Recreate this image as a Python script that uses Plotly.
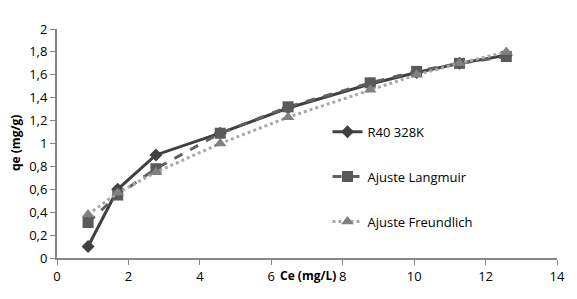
import plotly.graph_objects as go

ce = [0.87, 1.7, 2.77, 4.57, 6.47, 8.77, 10.07, 11.27, 12.58]
qe_exp = [0.10, 0.60, 0.90, 1.09, 1.31, 1.52, 1.62, 1.70, 1.77]
qe_lang = [0.31, 0.55, 0.78, 1.09, 1.32, 1.53, 1.63, 1.70, 1.76]
qe_freu = [0.38, 0.57, 0.75, 1.00, 1.23, 1.47, 1.60, 1.70, 1.80]

x_ticks = [0, 2, 4, 6, 8, 10, 12, 14]
x_ticktext = ["0", "2", "4", "6", "8", "10", "12", "14"]
y_ticks = [0, 0.2, 0.4, 0.6, 0.8, 1, 1.2, 1.4, 1.6, 1.8, 2]
y_ticktext = ["0", "0,2", "0,4", "0,6", "0,8", "1", "1,2", "1,4", "1,6", "1,8", "2"]

FONT = "Open Sans"

fig = go.Figure()
fig.add_trace(go.Scatter(
    x=ce, y=qe_exp, name="R40 328K", mode="lines+markers",
    line=dict(color="#404040", width=3),
    marker=dict(symbol="diamond", size=10, color="#404040"),
    legendgroup="a"))
fig.add_trace(go.Scatter(
    x=ce, y=qe_lang, name="Ajuste Langmuir", mode="lines+markers",
    line=dict(color="#606060", width=3, dash="dash"),
    marker=dict(symbol="square", size=11, color="#5a5a5a"),
    legendgroup="b"))
fig.add_trace(go.Scatter(
    x=ce, y=qe_freu, name="Ajuste Freundlich", mode="lines+markers",
    line=dict(color="#a8a8a8", width=3, dash="dot"),
    marker=dict(symbol="triangle-up", size=11, color="#808080"),
    legendgroup="c"))

# page body has an 8px margin, so the figure is drawn at (8, 8)
fig.update_layout(
    width=569, height=291,
    margin=dict(l=49, r=19, t=13, b=41),
    paper_bgcolor="white", plot_bgcolor="white",
    font=dict(family=FONT, size=13, color="#000000"),
    legend=dict(x=0.541, y=0.355, xanchor="left", yanchor="middle",
                bgcolor="rgba(0,0,0,0)", tracegroupgap=25,
                traceorder="grouped", font=dict(size=13, family=FONT)),
    xaxis=dict(range=[0, 14], tickvals=x_ticks, ticktext=x_ticktext,
               showgrid=False, zeroline=False, showline=True,
               linecolor="#868686", linewidth=2, ticks="outside",
               tickcolor="#868686", ticklen=5, fixedrange=True),
    yaxis=dict(range=[0, 2], tickvals=y_ticks, ticktext=y_ticktext,
               showgrid=False, zeroline=False, showline=True,
               linecolor="#868686", linewidth=2, ticks="outside",
               tickcolor="#868686", ticklen=5, fixedrange=True),
    annotations=[
        dict(text="<b>Ce (mg/L)</b>", x=0.502, xref="paper", y=-0.076, yref="paper",
             yanchor="middle", showarrow=False, font=dict(size=12, family=FONT)),
        dict(text="<b>qe (mg/g)</b>", x=-0.083, xref="paper", y=0.5, yref="paper",
             xanchor="center", yanchor="middle", showarrow=False, textangle=-90,
             font=dict(size=12, family=FONT)),
    ],
)

fig.write_html("out.html")
